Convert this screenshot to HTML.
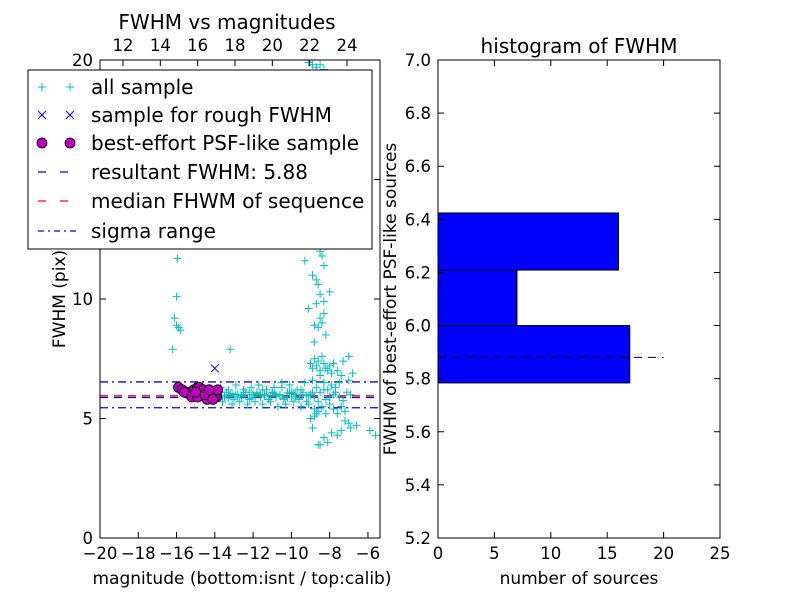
<!DOCTYPE html>
<html><head><meta charset="utf-8"><style>
body{margin:0;background:#fff;}
svg text{font-family:"DejaVu Sans","Liberation Sans",sans-serif;}
</style></head><body>
<svg id="c" width="800" height="600" xmlns="http://www.w3.org/2000/svg"></svg>
<script>
// ---- left panel data ----
const allMag = [-16.1,-16.0,-15.9,-15.8,-15.95,-16.2,-16.0,-13.2,-12.5,-12.0,-11.5,-11.0,-10.5,-10.0,-9.5,
-13.8,-13.5,-13.4,-13.2,-13.0,-12.8,-12.6,-12.4,-12.2,-12.0,-11.8,-11.6,-11.4,-11.2,-11.0,-10.8,-10.6,-10.4,-10.2,-10.0,-9.8,-9.6,-9.4,-9.2,-9.0,
-13.7,-13.3,-12.9,-12.5,-12.1,-11.7,-11.3,-10.9,-10.5,-10.1,-9.7,-9.3,-8.9,-8.7,-8.5,-8.3,-8.1,-7.9,-7.7,-7.5,
-13.6,-13.1,-12.7,-12.3,-11.9,-11.5,-11.1,-10.7,-10.3,-9.9,-9.5,-9.1,-8.8,-8.6,-8.4,-8.2,-8.0,-7.8,-7.6,-7.4,-7.2,-7.0,
-9.0,-8.9,-8.8,-8.7,-8.6,-8.5,-8.4,-8.3,-8.2,-8.1,-8.0,-7.9,-7.8,-7.6,-7.4,-7.3,-7.0,-6.8,
-9.1,-8.9,-8.7,-8.5,-8.3,-8.8,-8.6,-8.4,-8.2,-9.3,-8.9,-8.6,-8.3,-8.0,-8.7,-8.5,-8.4,-8.2,-8.8,-8.6,-8.3,-9.1,-8.7,-8.5,-8.4,-8.6,-8.9,-8.3,-8.5,-8.8,
-7.2,-6.6,-6.9,-7.6,-7.9,-8.3,-8.6,-8.1,-7.4,-7.0,-5.9,-5.6,-8.5,-8.9,-9.0,-8.8,-8.7,
-13.5,-13.1,-12.8,-12.4,-12.1,-11.8,-11.4,-11.1,-10.8,-10.4,-10.1,-9.8,-9.4,-9.1,-8.8,-8.5,-8.2,-7.8,-7.5,-7.1,
-13.3,-12.9,-12.6,-12.2,-11.9,-11.6,-11.2,-10.9,-10.6,-10.2,-9.9,-9.6,-9.2,-8.9,-8.6,-8.3,-8.0,-7.7,-7.3,-6.9];
const allFwhm = [9.2,10.1,8.8,8.7,11.7,7.9,8.9,7.9,6.1,6.0,6.2,6.1,6.3,6.1,6.2,
6.0,5.9,6.1,6.0,5.8,6.0,5.9,6.1,5.8,6.0,6.1,5.9,6.0,5.8,6.1,5.9,6.0,5.8,6.1,5.9,6.0,5.8,6.1,5.7,6.0,
6.3,6.2,6.4,6.2,6.3,6.4,6.2,6.3,6.5,6.4,6.2,6.5,6.6,6.3,6.8,6.5,6.2,6.4,6.1,6.5,
5.7,5.6,5.7,5.6,5.7,5.6,5.7,5.5,5.6,5.7,5.5,5.6,5.4,5.3,5.5,5.2,5.6,5.4,5.2,5.5,5.3,6.6,
7.3,7.1,7.5,7.2,7.4,7.0,7.6,7.3,7.1,7.0,7.2,6.9,7.3,7.0,6.8,7.4,7.6,6.9,
19.9,19.8,19.7,19.8,19.6,13.3,12.5,12.9,12.2,11.6,11.0,10.6,11.4,10.3,9.8,9.2,9.0,8.5,8.2,8.8,9.4,9.6,10.8,12.0,11.8,13.0,12.6,9.9,10.2,8.9,
4.9,4.7,4.6,4.3,4.4,4.2,3.9,4.0,4.5,4.8,4.5,4.3,3.9,4.6,5.0,5.1,5.2,
5.95,6.05,5.9,6.0,5.85,6.05,5.95,5.9,6.0,5.85,6.05,5.9,6.0,5.95,5.9,6.1,5.8,6.0,5.9,6.1,
5.85,6.0,5.95,6.1,5.9,6.0,5.8,6.05,5.95,5.9,6.05,5.85,5.95,6.1,5.7,6.2,5.9,6.3,5.75,6.0];
const roughMag = [-14.0];
const roughFwhm = [7.1];
const bestMag = [-15.9,-15.7,-15.5,-15.3,-15.1,-14.9,-14.7,-14.5,-14.3,-14.1,-13.9,-15.6,-15.2,-14.8,-14.6,-14.4,-14.2,-14.0,-13.85,-14.9,-14.5,-14.1,-15.0,-14.3];
const bestFwhm = [6.3,6.2,6.1,6.0,6.2,6.3,6.1,5.9,6.2,6.0,5.9,6.1,5.9,6.3,6.2,5.8,6.1,5.9,6.2,5.9,6.0,5.8,6.1,6.2];
const resultFwhm = 5.88, medianFwhm = 5.95, sigmaLo = 5.45, sigmaHi = 6.53;
const xTicks = [-20,-18,-16,-14,-12,-10,-8,-6];
const yTicks = [0,5,10,15,20];
const topTicks = [12,14,16,18,20,22,24];
// ---- right panel data ----
const binLo = [5.784,6.0,6.209];
const binHi = [6.0,6.209,6.424];
const binCount = [17,7,16];
const hxTicks = [0,5,10,15,20,25];
const hyTicks = [5.2,5.4,5.6,5.8,6.0,6.2,6.4,6.6,6.8,7.0];

const NS="http://www.w3.org/2000/svg", svg=document.getElementById('c');
function el(tag,attrs,parent){const e=document.createElementNS(NS,tag);for(const k in attrs)e.setAttribute(k,attrs[k]);(parent||svg).appendChild(e);return e;}
function tx(x,y,s,size,anchor,parent,rot){const t=el('text',{x:x,y:y,'font-size':size,'text-anchor':anchor||'middle',fill:'#000'},parent);if(rot)t.setAttribute('transform',rot);t.textContent=s;return t;}
const TF=16.5, LF=17, BF=20;

// left axes
const L={x0:100,x1:380,y0:538,y1:60};
const xs=v=>L.x0+(v+20)*(280/14.63);
const ys=v=>L.y0-v*(478/20);
const xt=v=>123+(v-12)*(224/12);
const gL=el('g',{});

const cp=el('clipPath',{id:'cl'},gL);
el('rect',{x:L.x0,y:L.y1,width:280,height:478},cp);
const pg=el('g',{'clip-path':'url(#cl)'},gL);
[[sigmaHi,'#00f','8,4,2,4'],[sigmaLo,'#00f','8,4,2,4'],[medianFwhm,'#f00','8,6'],[resultFwhm,'#00f','8,6']].forEach((d,i)=>{
 const l=el('line',{x1:L.x0,x2:L.x1,y1:ys(d[0]),y2:ys(d[0]),stroke:d[1],'stroke-width':1.3,'stroke-dasharray':d[2]},pg);
 
 
});
for(let i=0;i<allMag.length;i++){
 const x=xs(allMag[i]),y=ys(allFwhm[i]);
 const p=el('path',{d:`M${x-4},${y}H${x+4}M${x},${y-4}V${y+4}`,stroke:'#00bfbf','stroke-width':1},pg);
 
 
}
for(let i=0;i<roughMag.length;i++){
 const x=xs(roughMag[i]),y=ys(roughFwhm[i]);
 const p=el('path',{d:`M${x-4},${y-4}L${x+4},${y+4}M${x-4},${y+4}L${x+4},${y-4}`,stroke:'#00f','stroke-width':1},pg);
 
 
}
for(let i=0;i<bestMag.length;i++){
 const c=el('circle',{cx:xs(bestMag[i]),cy:ys(bestFwhm[i]),r:5,fill:'#bf00bf',stroke:'#000','stroke-width':0.8},pg);
 
 
}
el('rect',{x:L.x0,y:L.y1,width:280,height:478,fill:'none',stroke:'#000','stroke-width':1},gL);
xTicks.forEach(v=>{const x=xs(v);el('path',{d:`M${x},${L.y0}v-6`,stroke:'#000'},gL);tx(x,L.y0+21,(v<0?'\u2212':'')+Math.abs(v),TF,'middle',gL);});
yTicks.forEach(v=>{const y=ys(v);el('path',{d:`M${L.x0},${y}h6M${L.x1},${y}h-6`,stroke:'#000'},gL);tx(L.x0-7,y+6,v,TF,'end',gL);});
topTicks.forEach(v=>{const x=xt(v);el('path',{d:`M${x},${L.y1}v6`,stroke:'#000'},gL);tx(x,L.y1-9,v,TF,'middle',gL);});
const t1=tx(227,29,'FWHM vs magnitudes',BF,'middle',gL);
const xl=tx(242,584,'magnitude (bottom:isnt / top:calib)',LF,'middle',gL);
const yl=tx(65,299,'FWHM (pix)',LF,'middle',gL,'rotate(-90 65 299)');

// legend
const lg=el('g',{});

el('rect',{x:28,y:70,width:344,height:179,fill:'#fff',stroke:'#000','stroke-width':1},lg);
const ly=[87,115,143,172,201,231];
const labels=['all sample','sample for rough FWHM','best-effort PSF-like sample','resultant FWHM: 5.88','median FHWM of sequence','sigma range'];
ly.forEach((y,i)=>{
 const g=el('g',{},lg);
 
 if(i==0)[42,70].forEach(x=>el('path',{d:`M${x-4},${y}H${x+4}M${x},${y-4}V${y+4}`,stroke:'#00bfbf'},g));
 if(i==1)[42,70].forEach(x=>el('path',{d:`M${x-4},${y-4}L${x+4},${y+4}M${x-4},${y+4}L${x+4},${y-4}`,stroke:'#00f'},g));
 if(i==2)[42,70].forEach(x=>el('circle',{cx:x,cy:y,r:5,fill:'#bf00bf',stroke:'#000','stroke-width':0.8},g));
 if(i==3)el('line',{x1:38,x2:76,y1:y,y2:y,stroke:'#00f','stroke-width':1.3,'stroke-dasharray':'8,14'},g);
 if(i==4)el('line',{x1:38,x2:76,y1:y,y2:y,stroke:'#f00','stroke-width':1.3,'stroke-dasharray':'8,14'},g);
 if(i==5)el('line',{x1:38,x2:76,y1:y,y2:y,stroke:'#00f','stroke-width':1.3,'stroke-dasharray':'6,4,2,4'},g);
 tx(91,y+7,labels[i],BF,'start',g);
});

// right histogram
const R={x0:438,x1:720,y0:538,y1:60};
const hx=v=>R.x0+v*(282/25);
const hy=v=>R.y0-(v-5.2)*(478/1.8);
const gR=el('g',{});

for(let i=0;i<binCount.length;i++){
 const r=el('rect',{x:hx(0),y:hy(binHi[i]),width:hx(binCount[i])-hx(0),height:hy(binLo[i])-hy(binHi[i]),fill:'#00f',stroke:'#000','stroke-width':1},gR);
 
 
}
const dl=el('line',{x1:hx(0),x2:hx(20),y1:hy(resultFwhm),y2:hy(resultFwhm),stroke:'#000','stroke-width':1,'stroke-dasharray':'8,6'},gR);

el('rect',{x:R.x0,y:R.y1,width:282,height:478,fill:'none',stroke:'#000'},gR);
hxTicks.forEach(v=>{const x=hx(v);el('path',{d:`M${x},${R.y0}v-6M${x},${R.y1}v6`,stroke:'#000'},gR);tx(x,R.y0+21,v,TF,'middle',gR);});
hyTicks.forEach(v=>{const y=hy(v);el('path',{d:`M${R.x0},${y}h6M${R.x1},${y}h-6`,stroke:'#000'},gR);tx(R.x0-7,y+6,v.toFixed(1),TF,'end',gR);});
const t2=tx(579,53,'histogram of FWHM',BF,'middle',gR);
const hxl=tx(579,584,'number of sources',LF,'middle',gR);
const hyl=tx(396,299,'FWHM of best-effort PSF-like sources',LF,'middle',gR,'rotate(-90 396 299)');
</script>
</body></html>
